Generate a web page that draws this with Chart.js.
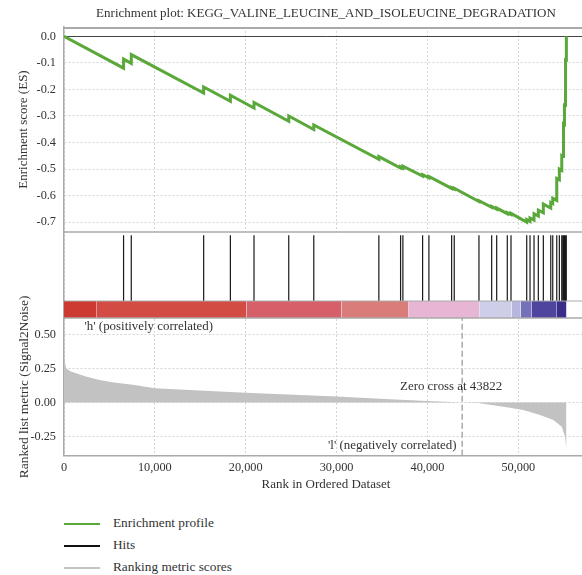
<!DOCTYPE html>
<html>
<head>
<meta charset="utf-8">
<script src="https://cdn.jsdelivr.net/npm/chart.js@4.4.1/dist/chart.umd.min.js"></script>
<style>
  html, body { margin:0; padding:0; background:#fff; overflow:hidden; width:582px; height:575px; }
  #wrap { position:absolute; left:0; top:0; width:588px; height:495px; }
  .leg { position:absolute; left:0; font-family:'Liberation Serif','DejaVu Serif',serif; font-size:13.3px; color:#333; }
  .leg .ln { position:absolute; left:64px; width:36px; }
  .leg .tx { position:absolute; left:113px; white-space:nowrap; line-height:16px; }
</style>
</head>
<body>
<div id="wrap"><canvas id="c" width="588" height="495"></canvas></div>
<div class="leg" style="top:524px"><div class="ln" style="top:-1px;height:1.6px;background:#5aa83a"></div><div class="tx" style="top:-9px">Enrichment profile</div></div>
<div class="leg" style="top:546px"><div class="ln" style="top:-1px;height:2px;background:#111"></div><div class="tx" style="top:-9px">Hits</div></div>
<div class="leg" style="top:568px"><div class="ln" style="top:-1px;height:1.6px;background:#c4c4c4"></div><div class="tx" style="top:-9px">Ranking metric scores</div></div>
<script>
// ---------------- data ----------------
const titleText = 'Enrichment plot: KEGG_VALINE_LEUCINE_AND_ISOLEUCINE_DEGRADATION';
const xTicks = [0, 10000, 20000, 30000, 40000, 50000];
const esTicks = [0.0, -0.1, -0.2, -0.3, -0.4, -0.5, -0.6, -0.7];
const metricTicks = [0.5, 0.25, 0.0, -0.25];

const hits = [6556, 7404, 15370, 18312, 20912, 24735, 27490, 34652, 37043, 37296,
  39467, 40161, 42662, 42949, 45670, 47069, 47620, 48788, 49196, 50926, 51289,
  51730, 52204, 52755, 53570, 53790, 54231, 54517, 54782, 54925, 55000, 55080,
  55150, 55220, 55280];

const esRank = [0,
  6556, 6556, 7404, 7404, 15370, 15370, 18312, 18312, 20912, 20912,
  24735, 24735, 27490, 27490, 34652, 34652, 37043, 37043, 37296, 37296,
  39467, 39467, 40161, 40161, 42662, 42662, 42949, 42949, 45670, 45670,
  47069, 47069, 47620, 47620, 48788, 48788, 49196, 49196, 50926, 50926,
  51289, 51289, 51730, 51730, 52204, 52204, 52755, 52755, 53570, 53570,
  53790, 53790, 54231, 54231, 54517, 54517, 54782, 54782, 54925, 54925,
  55000, 55000, 55080, 55080, 55150, 55150, 55220, 55220, 55280, 55280, 55300];
const esScore = [0,
  -0.120, -0.086, -0.102, -0.069, -0.214, -0.191, -0.245, -0.222, -0.270, -0.249,
  -0.320, -0.300, -0.351, -0.334, -0.463, -0.453, -0.496, -0.492, -0.497, -0.489,
  -0.526, -0.521, -0.533, -0.528, -0.573, -0.570, -0.575, -0.572, -0.622, -0.619,
  -0.644, -0.641, -0.651, -0.647, -0.668, -0.664, -0.671, -0.667, -0.700, -0.690,
  -0.697, -0.684, -0.692, -0.668, -0.677, -0.655, -0.665, -0.632, -0.647, -0.626,
  -0.630, -0.610, -0.618, -0.535, -0.540, -0.500, -0.505, -0.450, -0.453, -0.400,
  -0.401, -0.330, -0.332, -0.260, -0.261, -0.170, -0.171, -0.090, -0.091, 0.000, 0.000];

const metricRank = [0, 50, 250, 700, 1340, 2500, 3900, 5500, 7580, 10000, 14900,
  20000, 25950, 30000, 35860, 40000, 43822, 45600, 48720, 50550, 52390, 53860,
  54780, 55150, 55300];
const metricValue = [0.37, 0.31, 0.25, 0.23, 0.215, 0.19, 0.166, 0.147, 0.13, 0.105, 0.088,
  0.073, 0.056, 0.044, 0.024, 0.012, 0.0, -0.003, -0.034, -0.054, -0.09, -0.127,
  -0.176, -0.25, -0.35];

const zeroCross = 43822;
const colorBarStops = [0, 3550, 20080, 30540, 37880, 45700, 49270, 50260, 51470, 54230, 55300];

// ---------------- styles ----------------
const colorBarPalette = ['#cc3a31', '#d24c44', '#d6606a', '#d97c7a', '#e6b6d4',
  '#cfcee9', '#b9b6de', '#7471ba', '#4f449e', '#3b2e89'];
const SERIF = "'Liberation Serif','DejaVu Serif',serif";
const GREEN = '#5aa83a';
const GRID = '#d4d4d4';
const FRAME = '#aaaaaa';

const datasets = [];
datasets.push({
  label: 'Enrichment profile', yAxisID: 'yES',
  data: esRank.map((r, i) => ({x: r, y: esScore[i]})),
  borderColor: GREEN, borderWidth: 3, pointRadius: 0, fill: false, tension: 0, order: 1
});
const hitData = [];
hits.forEach(r => { hitData.push({x: r, y: 0}, {x: r, y: 1}, {x: r, y: null}); });
datasets.push({
  label: 'Hits', yAxisID: 'yHits', data: hitData, spanGaps: false,
  borderColor: '#1a1a1a', borderWidth: 1.2, pointRadius: 0, fill: false, order: 2
});
for (let i = 0; i < colorBarPalette.length; i++) {
  datasets.push({
    label: 'bar' + i, yAxisID: 'yBar',
    data: [{x: colorBarStops[i], y: 1}, {x: colorBarStops[i + 1], y: 1}],
    borderWidth: 0, borderColor: 'rgba(0,0,0,0)', backgroundColor: colorBarPalette[i],
    pointRadius: 0, fill: 'origin', order: 5
  });
}
datasets.push({
  label: 'Ranking metric scores', yAxisID: 'yM',
  data: metricRank.map((r, i) => ({x: r, y: metricValue[i]})),
  borderWidth: 0, borderColor: 'rgba(0,0,0,0)', backgroundColor: '#c2c2c2',
  pointRadius: 0, fill: 'origin', order: 4
});
datasets.push({
  label: 'zero', yAxisID: 'yM',
  data: [{x: zeroCross, y: -0.389}, {x: zeroCross, y: 0.62}],
  borderColor: '#9d9d9d', borderWidth: 1.3, borderDash: [6, 3], pointRadius: 0, fill: false, order: 3
});

const fixW = s => { s.width = 64; };
const tickList = arr => s => { s.ticks = arr.map(v => ({value: v})); };

const panelPlugin = {
  id: 'panels',
  beforeDatasetsDraw(chart) {
    const ctx = chart.ctx, a = chart.chartArea, h = chart.scales.yHits;
    ctx.save();
    ctx.fillStyle = '#fff';
    ctx.fillRect(a.left + 1, h.top + 1, a.right - a.left, h.bottom - h.top - 1);
    ctx.restore();
  },
  afterDatasetsDraw(chart) {
    const ctx = chart.ctx, a = chart.chartArea, s = chart.scales;
    ctx.save();
    const hline = (y, w) => { ctx.lineWidth = w; ctx.strokeStyle = FRAME; ctx.beginPath(); ctx.moveTo(a.left, y); ctx.lineTo(a.right, y); ctx.stroke(); };
    hline(s.yES.top + 1, 2);
    hline(s.yES.bottom, 1.5);
    hline(s.yBar.top, 1);
    hline(s.yBar.bottom, 1.5);
    // annotations
    const x = s.x, m = s.yM;
    ctx.fillStyle = '#333';
    ctx.font = '12.9px ' + SERIF;
    ctx.textBaseline = 'middle';
    ctx.textAlign = 'left';
    ctx.fillText("'h' (positively correlated)", x.getPixelForValue(2260), m.getPixelForValue(0.555));
    ctx.textAlign = 'center';
    ctx.fillText('Zero cross at ' + zeroCross, x.getPixelForValue(42600), m.getPixelForValue(0.117));
    ctx.textAlign = 'right';
    ctx.fillText("'l' (negatively correlated)", x.getPixelForValue(43200), m.getPixelForValue(-0.317));
    ctx.restore();
  }
};

const tickFont = {family: SERIF, size: 12.3};
new Chart(document.getElementById('c'), {
  type: 'line',
  data: {datasets},
  plugins: [panelPlugin],
  options: {
    responsive: false, animation: false, devicePixelRatio: 1,
    layout: {padding: {left: 0, right: 0, top: 0, bottom: 0}},
    plugins: {
      legend: {display: false}, tooltip: {enabled: false},
      title: {display: true, text: titleText, fullSize: false, color: '#333',
        font: {family: SERIF, size: 13, weight: 'normal', lineHeight: 1.2},
        padding: {top: 6, bottom: 5.4}}
    },
    scales: {
      x: {
        type: 'linear', min: 0, max: 57670,
        afterBuildTicks: tickList(xTicks),
        afterFit: s => { s.height = 39.3; },
        grid: {color: GRID, lineWidth: 1, drawTicks: false},
        border: {display: true, color: FRAME, width: 1.5, dash: [2, 2]},
        ticks: {font: tickFont, color: '#333', padding: 5, maxRotation: 0, autoSkip: false,
          callback: v => v.toLocaleString('en-US')},
        title: {display: true, text: 'Rank in Ordered Dataset', color: '#333',
          font: {family: SERIF, size: 13, lineHeight: 1.2}, padding: {top: 0, bottom: 2.5}}
      },
      yES: {
        type: 'linear', position: 'left', stack: 'gsea', stackWeight: 205, weight: 4,
        min: -0.737, max: 0.035,
        afterBuildTicks: tickList(esTicks), afterFit: fixW,
        grid: {drawTicks: false, color: c => (c.tick && c.tick.value === 0) ? '#444' : GRID,
          lineWidth: 1},
        border: {display: true, color: FRAME, width: 1.5,
          dash: c => (c.tick && c.tick.value === 0) ? [] : [2, 2]},
        ticks: {font: tickFont, color: '#333', padding: 8, autoSkip: false, callback: v => v.toFixed(1)},
        title: {display: true, text: 'Enrichment score (ES)', color: '#333',
          font: {family: SERIF, size: 13, lineHeight: 1.2}, padding: {top: 16, bottom: 0}}
      },
      yHits: {
        type: 'linear', position: 'left', stack: 'gsea', stackWeight: 69, weight: 3,
        min: 0, max: 1.05, afterFit: fixW,
        grid: {display: false, drawTicks: false},
        border: {display: true, color: FRAME, width: 1.5},
        ticks: {display: false}
      },
      yBar: {
        type: 'linear', position: 'left', stack: 'gsea', stackWeight: 17, weight: 2,
        min: 0, max: 1, afterFit: fixW,
        grid: {display: false, drawTicks: false},
        border: {display: true, color: FRAME, width: 1.5},
        ticks: {display: false}
      },
      yM: {
        type: 'linear', position: 'left', stack: 'gsea', stackWeight: 137.7, weight: 1,
        min: -0.389, max: 0.62,
        afterBuildTicks: tickList(metricTicks), afterFit: fixW,
        grid: {drawTicks: false, color: GRID, lineWidth: 1},
        border: {display: true, color: FRAME, width: 1.5, dash: [2, 2]},
        ticks: {font: tickFont, color: '#333', padding: 8, autoSkip: false, callback: v => v.toFixed(2)},
        title: {display: true, text: 'Ranked list metric (Signal2Noise)', color: '#333',
          font: {family: SERIF, size: 13.4, lineHeight: 1.2}, padding: {top: 16, bottom: 0}}
      }
    }
  }
});
</script>
</body>
</html>
